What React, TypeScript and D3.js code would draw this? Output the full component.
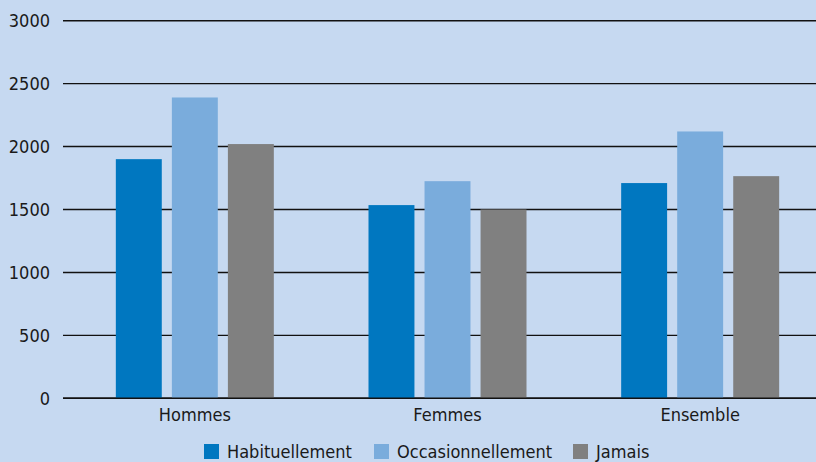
import React from "react";
import * as d3 from "d3";

const categories = ["Hommes", "Femmes", "Ensemble"];
const seriesNames = ["Habituellement", "Occasionnellement", "Jamais"];
const habituellement = [1900, 1535, 1710];
const occasionnellement = [2390, 1725, 2120];
const jamais = [2020, 1500, 1765];
const yTicks = [0, 500, 1000, 1500, 2000, 2500, 3000];
const colors = ["#0077c0", "#7aacdc", "#808080"];

const W = 816;
const H = 462;
const FONT = "'Liberation Sans Narrow', 'DejaVu Sans Condensed', 'Liberation Sans', sans-serif";

export default function App() {
  const series = [habituellement, occasionnellement, jamais];
  const y = d3.scaleLinear().domain([0, 3000]).range([398.3, 20.7]);
  const x0 = d3.scaleBand<string>().domain(categories).range([68.5, 826.5]).paddingInner(0).paddingOuter(0);
  const x1 = d3.scaleBand<string>().domain(seriesNames).range([0, 158]).paddingInner(0.18).paddingOuter(0);
  const groupOffset = (x0.bandwidth() - 158) / 2;
  const legendX = [204, 374, 573];

  return (
    <div style={{ position: "fixed", left: 0, top: 0 }}>
      <svg width={W} height={H} style={{ display: "block" }}>
        <rect x={0} y={0} width={W} height={H} fill="#c6d9f1" />
        {yTicks.map((t) => (
          <g key={t}>
            <line x1={63} x2={W} y1={y(t)} y2={y(t)} stroke="#111" strokeWidth={1.4} />
            <text x={50} y={y(t)} dy="0.35em" textAnchor="end" fontFamily={FONT} fontSize={18} fill="#1a1a1a">
              {t}
            </text>
          </g>
        ))}
        {categories.map((c, i) => (
          <g key={c} transform={`translate(${(x0(c) as number) + groupOffset},0)`}>
            {seriesNames.map((s, j) => (
              <rect
                key={s}
                x={x1(s)}
                y={y(series[j][i])}
                width={x1.bandwidth()}
                height={y(0) - y(series[j][i])}
                fill={colors[j]}
              />
            ))}
          </g>
        ))}
        <line x1={63} x2={W} y1={y(0)} y2={y(0)} stroke="#111" strokeWidth={1.4} />
        {categories.map((c) => (
          <text
            key={c}
            x={(x0(c) as number) + x0.bandwidth() / 2}
            y={415}
            dy="0.35em"
            textAnchor="middle"
            fontFamily={FONT}
            fontSize={18}
            fill="#1a1a1a"
          >
            {c}
          </text>
        ))}
        {seriesNames.map((s, j) => (
          <g key={s}>
            <rect x={legendX[j]} y={444} width={15} height={15} fill={colors[j]} />
            <text x={legendX[j] + 23} y={452} dy="0.35em" fontFamily={FONT} fontSize={18} fill="#1a1a1a">
              {s}
            </text>
          </g>
        ))}
      </svg>
    </div>
  );
}
